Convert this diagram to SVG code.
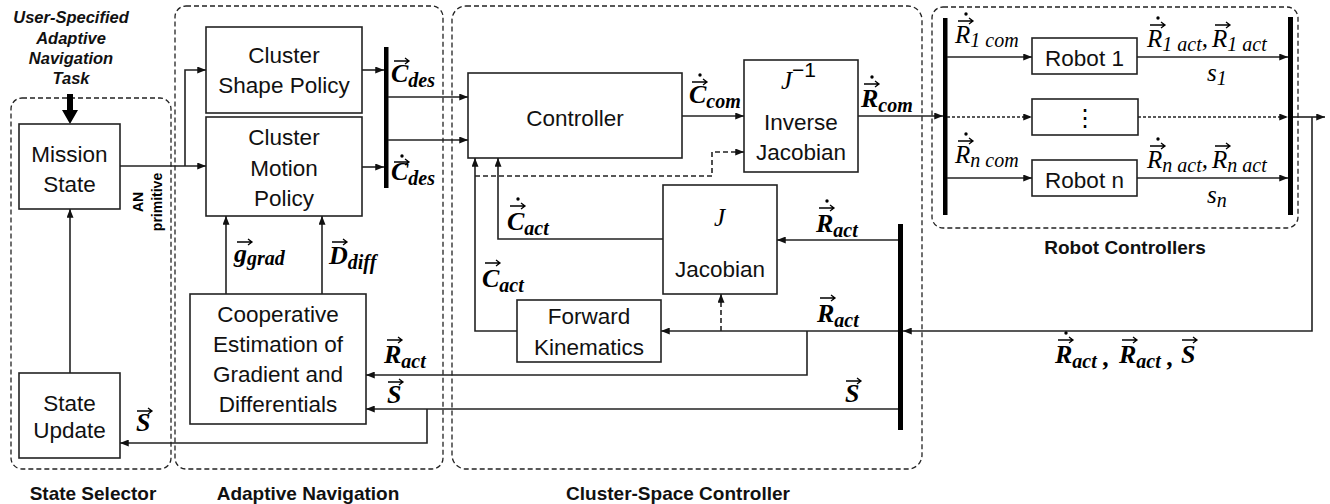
<svg xmlns="http://www.w3.org/2000/svg" xmlns:xlink="http://www.w3.org/1999/xlink" width="1330" height="504" viewBox="0 0 1330 504">
  <style>
    .box { fill: #fff; stroke: #222; stroke-width: 1.6; }
    .grp { fill: none; stroke: #222; stroke-width: 1.3; stroke-dasharray: 5 3; }
    .bar { fill: #000; }
    .ln { fill: none; stroke: #222; stroke-width: 1.6; }
    .arr { marker-end: url(#ah); }
    .dsh { stroke-dasharray: 5 3; }
    .dshf { stroke-dasharray: 3 2; }
    .lbl { font-family: "Liberation Sans", Arial, sans-serif; font-size: 22.5px; text-anchor: middle; fill: #111; }
    .ttl { font-family: "Liberation Sans", Arial, sans-serif; font-size: 19px; font-weight: bold; text-anchor: middle; fill: #111; }
    .task { font-family: "Liberation Sans", Arial, sans-serif; font-size: 16.5px; font-weight: bold; font-style: italic; text-anchor: middle; fill: #111; }
    .mb { font-family: "Liberation Serif", "Times New Roman", serif; font-size: 26px; font-weight: bold; font-style: italic; fill: #000; }
    .mbs { font-size: 20px; }
    .mi { font-family: "Liberation Serif", "Times New Roman", serif; font-size: 25px; font-style: italic; fill: #000; }
    .mis { font-size: 20px; }
  </style>
  <defs>
    <marker id="ah" viewBox="0 0 10 8" refX="10" refY="4" markerWidth="9" markerHeight="7" orient="auto" markerUnits="userSpaceOnUse">
      <path d="M0,0 L10,4 L0,8 z" fill="#111"/>
    </marker>
    <!-- vector accent drawn over symbols -->
    <path id="va" d="M0,0 H15 M11,-3 L15,0 L11,3" fill="none" stroke="#000" stroke-width="1.3"/>
  </defs>

  <!-- dashed block groups -->
  <g id="group-state-selector">
    <rect class="grp" x="11" y="98" width="160" height="371" rx="11"/>
    <text class="ttl" x="93" y="500">State Selector</text>
  </g>
  <g id="group-adaptive-navigation">
    <rect class="grp" x="175" y="6" width="268" height="463" rx="11"/>
    <text class="ttl" x="308" y="500">Adaptive Navigation</text>
  </g>
  <g id="group-cluster-space">
    <rect class="grp" x="452" y="6" width="470" height="463" rx="14"/>
    <text class="ttl" x="678" y="500">Cluster-Space Controller</text>
  </g>
  <g id="group-robot-controllers">
    <rect class="grp" x="932" y="7" width="366" height="221" rx="11"/>
    <text class="ttl" x="1125" y="254">Robot Controllers</text>
  </g>

  <!-- task input -->
  <g id="task">
    <text class="task" x="71" y="23">User-Specified</text>
    <text class="task" x="71" y="44">Adaptive</text>
    <text class="task" x="71" y="64">Navigation</text>
    <text class="task" x="71" y="84">Task</text>
    <polygon points="67,94 73,94 73,110 78,110 70,124 62,110 67,110" fill="#000"/>
  </g>

  <!-- nodes -->
  <g id="mission-state">
    <rect class="box" x="19" y="124" width="101" height="85"/>
    <text class="lbl" x="69.5" y="162" font-size="21">Mission</text>
    <text class="lbl" x="69.5" y="192" font-size="21">State</text>
  </g>
  <g id="state-update">
    <rect class="box" x="19" y="373" width="101" height="85"/>
    <text class="lbl" x="69.5" y="411" font-size="20">State</text>
    <text class="lbl" x="69.5" y="438" font-size="20">Update</text>
  </g>
  <g id="an-primitive" transform="translate(143,202) rotate(-90)">
    <text x="0" y="0" font-family="Liberation Sans, Arial, sans-serif" font-size="14" font-weight="bold" text-anchor="middle">AN</text>
    <text x="0" y="19" font-family="Liberation Sans, Arial, sans-serif" font-size="14" font-weight="bold" text-anchor="middle">primitive</text>
  </g>
  <g id="cluster-shape-policy">
    <rect class="box" x="206" y="27" width="156" height="86"/>
    <text class="lbl" x="284" y="63">Cluster</text>
    <text class="lbl" x="284" y="93">Shape Policy</text>
  </g>
  <g id="cluster-motion-policy">
    <rect class="box" x="206" y="117" width="156" height="99"/>
    <text class="lbl" x="284" y="145">Cluster</text>
    <text class="lbl" x="284" y="176">Motion</text>
    <text class="lbl" x="284" y="206">Policy</text>
  </g>
  <g id="cooperative-estimation">
    <rect class="box" x="190" y="294" width="176" height="130"/>
    <text class="lbl" x="278" y="322" font-size="23">Cooperative</text>
    <text class="lbl" x="278" y="352" font-size="23">Estimation of</text>
    <text class="lbl" x="278" y="382" font-size="23">Gradient and</text>
    <text class="lbl" x="278" y="412" font-size="23">Differentials</text>
  </g>
  <g id="controller">
    <rect class="box" x="468" y="73" width="214" height="85"/>
    <text class="lbl" x="575" y="126">Controller</text>
  </g>
  <g id="inverse-jacobian">
    <rect class="box" x="744" y="60" width="114" height="112"/>
    <text class="mi" x="781" y="89">J<tspan font-size="21" font-style="normal" font-family="Liberation Sans, Arial, sans-serif" dy="-12">−1</tspan></text>
    <text class="lbl" x="801" y="130">Inverse</text>
    <text class="lbl" x="801" y="160">Jacobian</text>
  </g>
  <g id="jacobian">
    <rect class="box" x="663" y="185" width="114" height="109"/>
    <text class="mi" x="714" y="226">J</text>
    <text class="lbl" x="720" y="277">Jacobian</text>
  </g>
  <g id="forward-kinematics">
    <rect class="box" x="517" y="300" width="144" height="62"/>
    <text class="lbl" x="589" y="324">Forward</text>
    <text class="lbl" x="589" y="355">Kinematics</text>
  </g>
  <g id="robot-1">
    <rect class="box" x="1032" y="38" width="105" height="36"/>
    <text class="lbl" x="1084.5" y="66">Robot 1</text>
  </g>
  <g id="robot-more">
    <rect class="box" x="1032" y="99" width="106" height="36"/>
    <text x="1085" y="126" font-family="DejaVu Sans, sans-serif" font-size="24" text-anchor="middle">⋮</text>
  </g>
  <g id="robot-n">
    <rect class="box" x="1032" y="160" width="105" height="36"/>
    <text class="lbl" x="1084.5" y="188">Robot n</text>
  </g>

  <!-- signal buses -->
  <g id="buses">
    <rect class="bar" x="384" y="47" width="4.5" height="141"/>
    <rect class="bar" x="943" y="18" width="4.5" height="197"/>
    <rect class="bar" x="1288" y="17" width="5" height="198"/>
    <rect class="bar" x="898" y="224" width="5" height="206"/>
  </g>

  <!-- connectors -->
  <g id="connectors">
    <path class="ln arr" d="M120,166 H206"/>
    <path class="ln arr" d="M185,166 V70 H206"/>
    <path class="ln arr" d="M70,373 V209"/>
    <path class="ln arr" d="M362,70 H384"/>
    <path class="ln arr" d="M362,167 H384"/>
    <path class="ln arr" d="M388,97 H468"/>
    <path class="ln arr" d="M388,140 H468"/>
    <path class="ln arr" d="M682,116 H744"/>
    <path class="ln arr dsh" d="M475,176 H712 V152 H744"/>
    <path class="ln arr" d="M858,116 H943"/>
    <path class="ln arr" d="M947,57 H1032"/>
    <path class="ln arr dshf" d="M947,117 H1032"/>
    <path class="ln arr" d="M947,178 H1032"/>
    <path class="ln arr" d="M1137,57 H1288"/>
    <path class="ln arr dshf" d="M1138,117 H1288"/>
    <path class="ln arr" d="M1137,178 H1288"/>
    <path class="ln arr" d="M1293,117 H1325"/>
    <path class="ln arr" d="M1312,117 V331 H903"/>
    <path class="ln arr" d="M898,240 H777"/>
    <path class="ln arr" d="M898,331 H661"/>
    <path class="ln arr dsh" d="M721,331 V294"/>
    <path class="ln arr" d="M663,239 H498 V158"/>
    <path class="ln arr" d="M517,331 H475 V158"/>
    <path class="ln arr" d="M807,331 V375 H366"/>
    <path class="ln arr" d="M898,409 H366"/>
    <path class="ln arr" d="M427,409 V443 H120"/>
    <path class="ln arr" d="M226,294 V216"/>
    <path class="ln arr" d="M322,294 V216"/>
  </g>

  <!-- signal labels -->
  <g id="signal-labels">
    <text class="mb" x="391" y="82">C<tspan class="mbs" dy="5">des</tspan></text>
    <use xlink:href="#va" x="394" y="61"/>

    <text class="mb" x="391" y="180">C<tspan class="mbs" dy="5">des</tspan></text>
    <use xlink:href="#va" x="394" y="162"/>
    <circle cx="402" cy="156" r="1.7"/>

    <text class="mb" x="689" y="103">C<tspan class="mbs" dy="5">com</tspan></text>
    <use xlink:href="#va" x="692" y="82"/>
    <circle cx="700" cy="75" r="1.7"/>

    <text class="mb" x="861" y="107">R<tspan class="mbs" dy="5">com</tspan></text>
    <use xlink:href="#va" x="864" y="84"/>
    <circle cx="872" cy="77" r="1.7"/>

    <text class="mi" x="955" y="43">R<tspan class="mis" dy="4">1 com</tspan></text>
    <use xlink:href="#va" x="958" y="21"/>
    <circle cx="966" cy="14" r="1.7"/>

    <text class="mi" x="955" y="163">R<tspan class="mis" dy="4">n com</tspan></text>
    <use xlink:href="#va" x="958" y="141"/>
    <circle cx="966" cy="134" r="1.7"/>

    <text class="mi" x="1147" y="47">R<tspan class="mis" dy="4">1 act</tspan><tspan dy="-4">,</tspan></text>
    <use xlink:href="#va" x="1150" y="25"/>
    <circle cx="1158" cy="18" r="1.7"/>
    <text class="mi" x="1212" y="47">R<tspan class="mis" dy="4">1 act</tspan></text>
    <use xlink:href="#va" x="1215" y="25"/>
    <text class="mi" x="1207" y="81">s<tspan class="mis" dy="4">1</tspan></text>

    <text class="mi" x="1147" y="168">R<tspan class="mis" dy="4">n act</tspan><tspan dy="-4">,</tspan></text>
    <use xlink:href="#va" x="1150" y="146"/>
    <circle cx="1158" cy="139" r="1.7"/>
    <text class="mi" x="1212" y="168">R<tspan class="mis" dy="4">n act</tspan></text>
    <use xlink:href="#va" x="1215" y="146"/>
    <text class="mi" x="1207" y="203">s<tspan class="mis" dy="4">n</tspan></text>

    <text class="mb" x="816" y="232">R<tspan class="mbs" dy="5">act</tspan></text>
    <use xlink:href="#va" x="819" y="208"/>
    <circle cx="827" cy="201" r="1.7"/>

    <text class="mb" x="817" y="322">R<tspan class="mbs" dy="5">act</tspan></text>
    <use xlink:href="#va" x="820" y="298"/>

    <text class="mb" x="845" y="402">S</text>
    <use xlink:href="#va" x="846" y="381"/>

    <text class="mb" x="507" y="230">C<tspan class="mbs" dy="5">act</tspan></text>
    <use xlink:href="#va" x="510" y="206"/>
    <circle cx="518" cy="199" r="1.7"/>

    <text class="mb" x="482" y="287">C<tspan class="mbs" dy="5">act</tspan></text>
    <use xlink:href="#va" x="485" y="263"/>

    <text class="mb" x="234" y="262">g<tspan class="mbs" dy="3">grad</tspan></text>
    <use xlink:href="#va" x="237" y="242"/>

    <text class="mb" x="329" y="264">D<tspan class="mbs" dy="5">diff</tspan></text>
    <use xlink:href="#va" x="332" y="242"/>

    <text class="mb" x="384" y="363">R<tspan class="mbs" dy="5">act</tspan></text>
    <use xlink:href="#va" x="387" y="340"/>

    <text class="mb" x="387" y="403">S</text>
    <use xlink:href="#va" x="388" y="382"/>

    <text class="mb" x="136" y="431">S</text>
    <use xlink:href="#va" x="137" y="411"/>

    <text class="mb" x="1055" y="363">R<tspan class="mbs" dy="5">act</tspan><tspan dy="-2"> ,</tspan></text>
    <use xlink:href="#va" x="1058" y="340"/>
    <circle cx="1066" cy="333" r="1.7"/>
    <text class="mb" x="1119" y="363">R<tspan class="mbs" dy="5">act</tspan><tspan dy="-2"> ,</tspan></text>
    <use xlink:href="#va" x="1122" y="340"/>
    <text class="mb" x="1181" y="363">S</text>
    <use xlink:href="#va" x="1182" y="340"/>
  </g>
</svg>
